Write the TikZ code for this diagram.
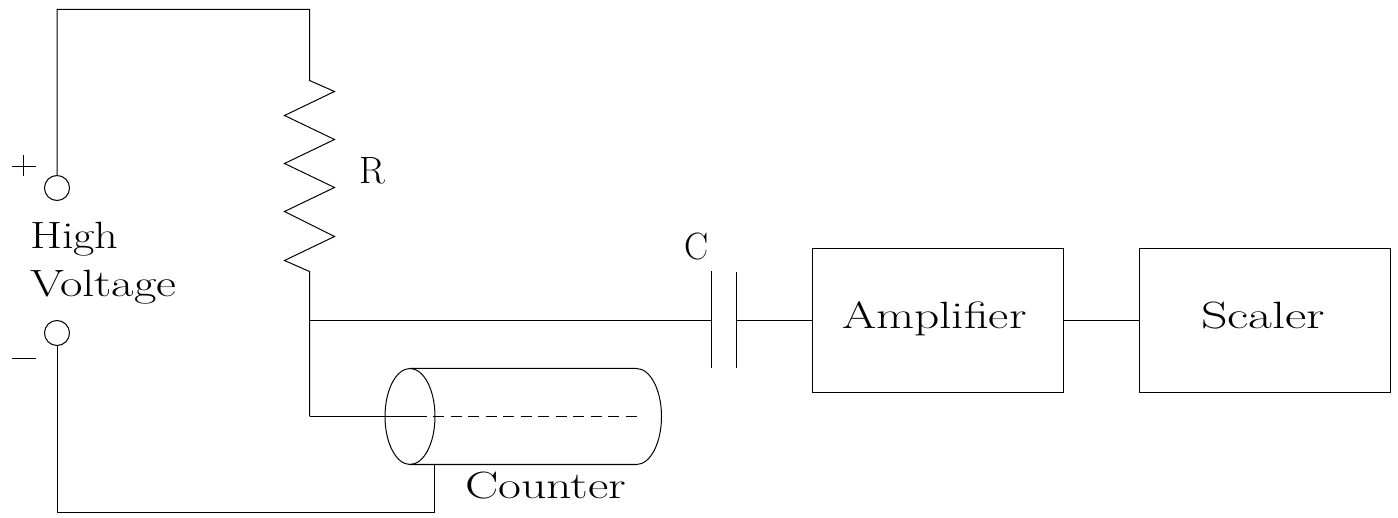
\documentclass[tikz,border=0pt]{standalone}
\usepackage{graphicx}
\usetikzlibrary{shapes.geometric}
\tikzset{
  wire/.style={line width=1pt,black,line join=miter},
  boxnode/.style={draw,line width=1pt,minimum width=251pt,minimum height=144pt,inner sep=0pt,outer sep=0pt},
  terminal/.style={circle,draw,line width=1pt,minimum size=25pt,inner sep=0pt,outer sep=0pt},
  lab/.style={anchor=base west,inner sep=0pt,outer sep=0pt,font=\fontsize{38}{38}\selectfont}
}
\newcommand{\widetext}[2]{\scalebox{#1}[1]{#2}}
\begin{document}
\begin{tikzpicture}[x=1pt,y=-1pt]
\useasboundingbox (0,0) rectangle (1398,518);
\begin{scope}[shift={(0.5,0.5)}]
% terminals
\node[terminal] (vp) at (56.5,187.5) {};
\node[terminal] (vm) at (56.5,332.5) {};
% boxes
\node[boxnode] (amp) at (937.5,320) {};
\node[boxnode] (sca) at (1264.5,320) {};
% counter
\node[ellipse,draw,line width=1pt,minimum width=50pt,minimum height=96pt,inner sep=0pt,outer sep=0pt] (cyl) at (409.5,416) {};
\coordinate (cylTR) at (636,368);
\coordinate (gnd) at (434,464);
\coordinate (anode) at (637,416);
\coordinate (inner) at (415,416);
\coordinate (wireL) at (309,416);
\draw[wire] (cyl.north) -- (cylTR) arc[start angle=-90,end angle=90,x radius=25,y radius=48] -- (cyl.south);
\draw[wire] (wireL) -- (inner);
\draw[wire,dash pattern=on 11pt off 6.5pt] (inner) -- (anode);
% resistor
\coordinate (rt) at (309,80);
\coordinate (rb) at (309,271);
\coordinate (tap) at (309,320);
\draw[wire] (vp.north) -- (56.5,9) -- (309,9) -- (rt)
  -- (334,91) -- (284,115) -- (334,139) -- (284,163) -- (334,187)
  -- (284,211) -- (334,236) -- (284,260) -- (rb) -- (tap) -- (wireL);
% capacitor
\coordinate (c1t) at (711,271);
\coordinate (c1b) at (711,368);
\coordinate (c2t) at (736,272);
\coordinate (c2b) at (736,368);
\coordinate (c1m) at (711,320);
\coordinate (c2m) at (736,320);
\draw[wire] (c1t) -- (c1b);
\draw[wire] (c2t) -- (c2b);
\draw[wire] (tap) -- (c1m);
\draw[wire] (c2m) -- (amp.west);
\draw[wire] (amp.east) -- (sca.west);
% return
\draw[wire] (gnd) -- (434,512) -- (56.5,512) -- (vm.south);
% polarity signs
\coordinate (pl) at (11,166);
\coordinate (pr) at (35,166);
\coordinate (pt) at (22.5,155);
\coordinate (pb) at (22.5,176);
\coordinate (ml) at (11,358);
\coordinate (mr) at (35,358);
\draw[wire] (pl) -- (pr);
\draw[wire] (pt) -- (pb);
\draw[wire] (ml) -- (mr);
\end{scope}
% labels
\node[lab] (thigh) at (30,249) {\widetext{1.22}{High}};
\node[lab] (tvolt) at (30,297) {\widetext{1.285}{Voltage}};
\node[lab] (tr) at (359,184) {\widetext{1.0}{R}};
\node[lab] (tc) at (684,260) {\widetext{0.95}{C}};
\node[lab] (tamp) at (842,329) {\widetext{1.30}{Amplif{}ier}};
\node[lab] (tsca) at (1201,329) {\widetext{1.37}{Scaler}};
\node[lab] (tcou) at (465,498) {\widetext{1.31}{Counter}};
\end{tikzpicture}
\end{document}
